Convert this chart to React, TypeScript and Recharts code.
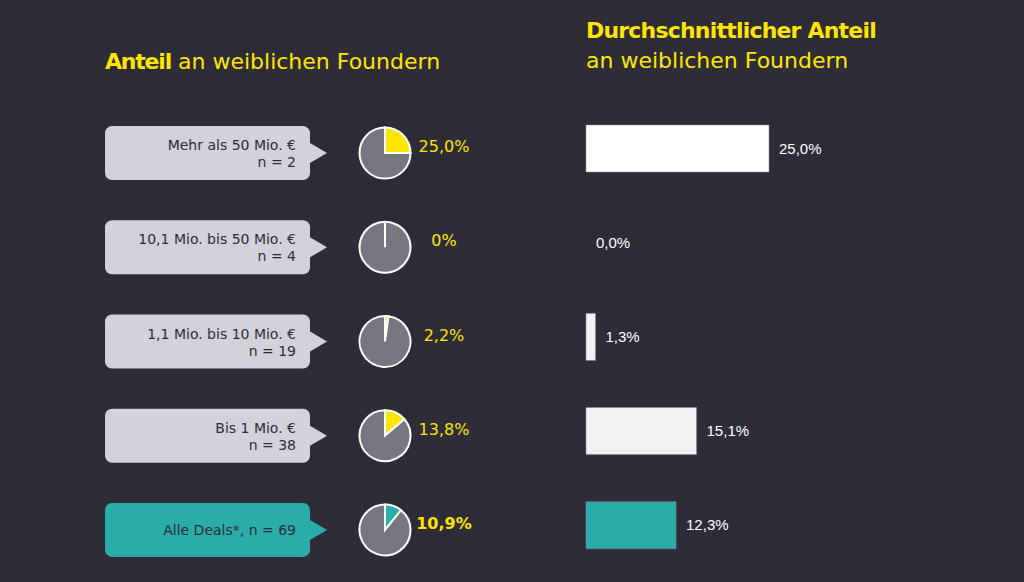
import { BarChart, Bar, XAxis, YAxis, Cell, LabelList, PieChart, Pie } from 'recharts';

const categories = ['Mehr als 50 Mio. €', '10,1 Mio. bis 50 Mio. €', '1,1 Mio. bis 10 Mio. €', 'Bis 1 Mio. €', 'Alle Deals*'];
const sampleSizes = [2, 4, 19, 38, 69];
const femaleShare = [25.0, 0, 2.2, 13.8, 10.9]; // Anteil (Pie)
const avgShare = [25.0, 0.0, 1.3, 15.1, 12.3]; // durchschnittlicher Anteil (Balken)

const BG = '#2d2c37';
const YELLOW = '#ffe600';
const TEAL = '#2aaca8';
const BOX = '#d2d2da';
const PIE_GRAY = '#777782';
const FONT = '"DejaVu Sans", Lato, sans-serif';

const W = 1024;
const H = 582;
const TOP = 101;
const BOTTOM = 10;
const BAND = (H - TOP - BOTTOM) / categories.length;
const ROW_SHIFT = 5; // Kästen und Kreise sitzen etwas tiefer als die Balken

const rows = categories.map((label, i) => ({
  label,
  n: sampleSizes[i],
  share: femaleShare[i],
  avg: avgShare[i],
}));

const barFills = ['#ffffff', '#f2f2f2', '#f2f2f2', '#f2f2f2', TEAL];

const fmt = (v: number, digits = 1) => v.toFixed(digits).replace('.', ',') + '%';

function RowTick(props: any) {
  const { index } = props;
  const y = props.y + ROW_SHIFT;
  const row = rows[index];
  if (!row) return null;
  const isTotal = index === rows.length - 1;
  const fill = isTotal ? TEAL : BOX;
  const shareText = row.share === 0 ? '0%' : fmt(row.share);
  return (
    <g>
      <rect x={105} y={y - 27} width={205} height={54} rx={7} fill={fill} />
      <path d={`M310,${y - 10} L327,${y} L310,${y + 10} Z`} fill={fill} />
      {isTotal ? (
        <text x={296} y={y + 5} textAnchor="end" fontSize={14} fill={BG} fontFamily={FONT}>
          {`${row.label}, n = ${row.n}`}
        </text>
      ) : (
        <text textAnchor="end" fontSize={14} fill={BG} fontFamily={FONT}>
          <tspan x={296} y={y - 3}>{row.label}</tspan>
          <tspan x={296} y={y + 14}>{`n = ${row.n}`}</tspan>
        </text>
      )}
      <text
        x={444}
        y={y - 1}
        textAnchor="middle"
        fontSize={16}
        fontWeight={isTotal ? 700 : 400}
        fill={YELLOW}
        fontFamily={FONT}
      >
        {shareText}
      </text>
    </g>
  );
}

function ValueLabel(props: any) {
  const { x, y, width, height, value } = props;
  return (
    <text
      x={x + (width || 0) + 10}
      y={y + height / 2 + 5}
      fill="#ffffff"
      fontSize={15}
      fontFamily='"Liberation Sans", Arial, sans-serif'
    >
      {fmt(Number(value))}
    </text>
  );
}

export default function App() {
  return (
    <div style={{ position: 'fixed', left: 0, top: 0, width: W, height: H, background: BG, overflow: 'hidden' }}>
      <div style={{ position: 'absolute', left: 105, top: 48, fontFamily: FONT, fontSize: 22, lineHeight: '28px', color: YELLOW, whiteSpace: 'nowrap' }}>
        <b style={{ letterSpacing: '-1.2px' }}>Anteil</b> an weiblichen Foundern
      </div>
      <div style={{ position: 'absolute', left: 586, top: 16, fontFamily: FONT, fontSize: 22, lineHeight: '30px', color: YELLOW, whiteSpace: 'nowrap' }}>
        <b style={{ letterSpacing: '-0.8px' }}>Durchschnittlicher Anteil</b>
        <br />
        an weiblichen Foundern
      </div>

      <div style={{ position: 'absolute', left: 0, top: 0 }}>
        <BarChart
          width={W}
          height={H}
          data={rows}
          layout="vertical"
          margin={{ top: TOP, right: 72, bottom: BOTTOM, left: 0 }}
        >
          <XAxis type="number" domain={[0, 50]} hide />
          <YAxis
            type="category"
            dataKey="label"
            width={586}
            axisLine={false}
            tickLine={false}
            interval={0}
            tick={(p: any) => <RowTick {...p} />}
          />
          <Bar dataKey="avg" barSize={47} minPointSize={0.01} isAnimationActive={false}>
            {rows.map((r, i) => (
              <Cell key={r.label} fill={barFills[i]} stroke={r.avg > 0 ? '#8a8a94' : 'none'} strokeWidth={0.5} />
            ))}
            <LabelList dataKey="avg" content={<ValueLabel />} />
          </Bar>
        </BarChart>
      </div>

      <div style={{ position: 'absolute', left: 0, top: 0, pointerEvents: 'none' }}>
        <PieChart width={W} height={H} margin={{ top: 0, right: 0, bottom: 0, left: 0 }}>
          {rows.map((r, i) => (
            <Pie
              key={r.label}
              data={[
                { name: 'weiblich', value: r.share },
                { name: 'rest', value: 100 - r.share },
              ]}
              dataKey="value"
              cx={385}
              cy={TOP + BAND * (i + 0.5) + ROW_SHIFT}
              outerRadius={25.5}
              startAngle={90}
              endAngle={-270}
              stroke="#ffffff"
              strokeWidth={2}
              isAnimationActive={false}
            >
              <Cell fill={i === rows.length - 1 ? TEAL : YELLOW} />
              <Cell fill={PIE_GRAY} />
            </Pie>
          ))}
        </PieChart>
      </div>
    </div>
  );
}
